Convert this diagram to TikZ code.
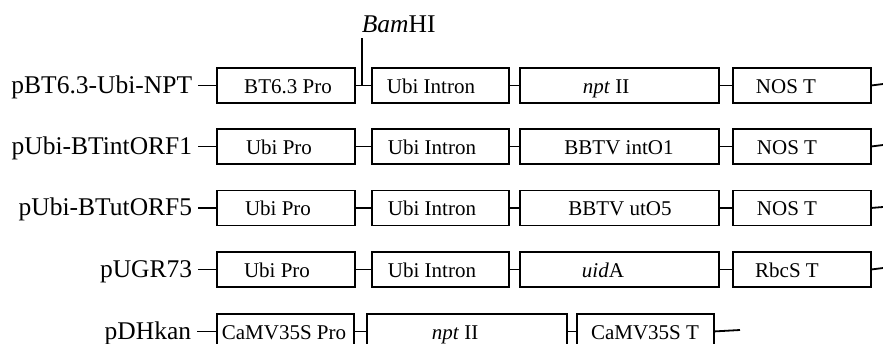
\documentclass[tikz,border=0pt]{standalone}
\usepackage{fontspec}
\setmainfont{Liberation Serif}
\begin{document}
\begin{tikzpicture}[x=1pt,y=-1pt,line width=1.8pt,
  boxnode/.style={draw,line width=1.8pt,minimum height=35pt,inner sep=0pt,anchor=north west},
  lab/.style={font=\fontsize{25.5}{28}\selectfont,anchor=base east,inner xsep=5pt,inner ysep=0pt},
  btext/.style={font=\fontsize{21}{24}\selectfont,anchor=base,inner sep=0pt},
  link/.style={draw,line width=1.8pt}]
\useasboundingbox (0,0) rectangle (883,343);
\clip (0,0) rectangle (883,343);
% ---------- Row 1
\node[boxnode,minimum width=138pt] (a1) at (216,67) {};
\node[boxnode,minimum width=137pt] (a2) at (371,67) {};
\node[boxnode,minimum width=199pt] (a3) at (519,67) {};
\node[boxnode,minimum width=138pt] (a4) at (732,67) {};
\node[lab] (la) at (198,93) {pBT6.3-Ubi-NPT};
\node[btext] at (288,93) {BT6.3 Pro};
\node[btext] at (431,93) {Ubi Intron};
\node[btext] at (606,93) {\textit{npt} II};
\node[btext] at (786,93) {NOS T};
\coordinate (ea) at (883,84);
\draw[link] (la.east |- a1.west) -- (a1.west);
\draw[link] (a1.east) -- (a2.west);
\draw[link] (a2.east) -- (a3.west);
\draw[link] (a3.east) -- (a4.west);
\draw[link] (a4.east) -- (ea);
% BamHI
\node[font=\fontsize{25.5}{28}\selectfont,anchor=base west,inner sep=0pt] (bam) at (361,32) {\textit{Bam}HI};
\coordinate (bamtop) at (362,38);
\draw[link] (bamtop) -- (bamtop |- a1.east);
% ---------- Row 2
\node[boxnode,minimum width=138pt] (b1) at (216,128) {};
\node[boxnode,minimum width=137pt] (b2) at (371,128) {};
\node[boxnode,minimum width=199pt] (b3) at (519,128) {};
\node[boxnode,minimum width=138pt] (b4) at (732,128) {};
\node[lab] (lb) at (198,154) {pUbi-BTintORF1};
\node[btext] at (279,154) {Ubi Pro};
\node[btext] at (432,154) {Ubi Intron};
\node[btext] at (619,154) {BBTV intO1};
\node[btext] at (787,154) {NOS T};
\coordinate (eb) at (883,145);
\draw[link] (lb.east |- b1.west) -- (b1.west);
\draw[link] (b1.east) -- (b2.west);
\draw[link] (b2.east) -- (b3.west);
\draw[link] (b3.east) -- (b4.west);
\draw[link] (b4.east) -- (eb);
% ---------- Row 3
\node[boxnode,minimum width=138pt] (c1) at (216,189.5) {};
\node[boxnode,minimum width=137pt] (c2) at (371,189.5) {};
\node[boxnode,minimum width=199pt] (c3) at (519,189.5) {};
\node[boxnode,minimum width=138pt] (c4) at (732,189.5) {};
\node[lab] (lc) at (198,215.5) {pUbi-BTutORF5};
\node[btext] at (278,215.5) {Ubi Pro};
\node[btext] at (432,215.5) {Ubi Intron};
\node[btext] at (620,215.5) {BBTV utO5};
\node[btext] at (787,215.5) {NOS T};
\coordinate (ec) at (883,207);
\draw[link] (lc.east |- c1.west) -- (c1.west);
\draw[link] (c1.east) -- (c2.west);
\draw[link] (c2.east) -- (c3.west);
\draw[link] (c3.east) -- (c4.west);
\draw[link] (c4.east) -- (ec);
% ---------- Row 4
\node[boxnode,minimum width=138pt] (d1) at (216,251) {};
\node[boxnode,minimum width=137pt] (d2) at (371,251) {};
\node[boxnode,minimum width=199pt] (d3) at (519,251) {};
\node[boxnode,minimum width=138pt] (d4) at (732,251) {};
\node[lab] (ld) at (198,277) {pUGR73};
\node[btext] at (277,277) {Ubi Pro};
\node[btext] at (432,277) {Ubi Intron};
\node[btext] at (603,277) {\textit{uid}A};
\node[btext] at (787,277) {RbcS T};
\coordinate (ed) at (883,268);
\draw[link] (ld.east |- d1.west) -- (d1.west);
\draw[link] (d1.east) -- (d2.west);
\draw[link] (d2.east) -- (d3.west);
\draw[link] (d3.east) -- (d4.west);
\draw[link] (d4.east) -- (ed);
% ---------- Row 5
\node[boxnode,minimum width=137pt] (e1) at (216,313) {};
\node[boxnode,minimum width=200pt] (e2) at (366,313) {};
\node[boxnode,minimum width=137pt] (e3) at (576,313) {};
\node[lab] (le) at (197,339) {pDHkan};
\node[btext] at (284,339) {CaMV35S Pro};
\node[btext] at (455,339) {\textit{npt} II};
\node[btext] at (645,339) {CaMV35S T};
\coordinate (ee) at (740,330);
\draw[link] (le.east |- e1.west) -- (e1.west);
\draw[link] (e1.east) -- (e2.west);
\draw[link] (e2.east) -- (e3.west);
\draw[link] (e3.east) -- (ee);
\end{tikzpicture}
\end{document}
